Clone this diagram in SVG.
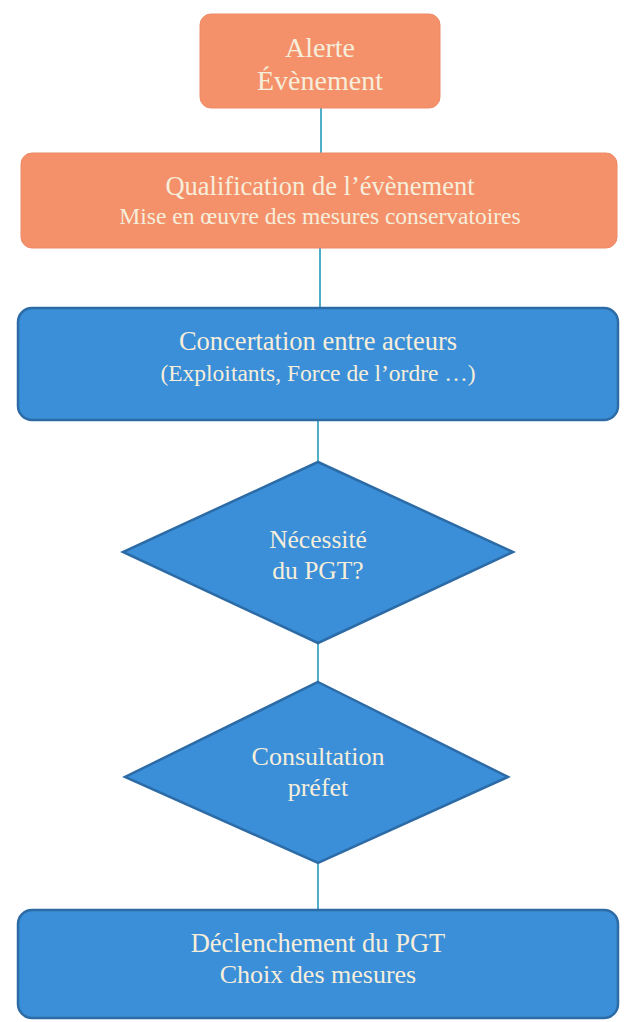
<svg xmlns="http://www.w3.org/2000/svg" width="625" height="1022" viewBox="0 0 625 1022">
<style>
.orange{fill:#F4916B;stroke:#EE8A66;stroke-width:1}
.blue{fill:#3A8FD8;stroke:#2C6BA6;stroke-width:2.5}
.t{font-family:"Liberation Serif","Times New Roman",serif;fill:#F6EEDB;text-anchor:middle}
.conn{stroke:#4FAFC9;stroke-width:2;fill:none}
</style>
<rect width="625" height="1022" fill="#ffffff"/>
<g id="connectors">
<line class="conn" x1="321" y1="108" x2="321" y2="154"/>
<line class="conn" x1="320" y1="248" x2="320" y2="309"/>
<line class="conn" x1="318" y1="420" x2="318" y2="463"/>
<line class="conn" x1="318" y1="643" x2="318" y2="683"/>
<line class="conn" x1="318" y1="863" x2="318" y2="911"/>
</g>
<g id="alerte">
<rect class="orange" x="200" y="14" width="240" height="94" rx="11"/>
<text class="t" x="320" y="57" font-size="28">Alerte</text>
<text class="t" x="320" y="90" font-size="28">Évènement</text>
</g>
<g id="qualification">
<rect class="orange" x="21" y="153" width="596" height="95" rx="11"/>
<text class="t" x="320" y="195" font-size="26.5">Qualification de l’évènement</text>
<text class="t" x="320" y="224" font-size="23.5">Mise en œuvre des mesures conservatoires</text>
</g>
<g id="concertation">
<rect class="blue" x="18" y="308" width="600" height="112" rx="14"/>
<text class="t" x="318" y="350" font-size="26.5">Concertation entre acteurs</text>
<text class="t" x="318" y="381" font-size="23.5">(Exploitants, Force de l’ordre …)</text>
</g>
<g id="necessite">
<polygon class="blue" points="318,462 513,552 318,643 123,552"/>
<text class="t" x="318" y="548" font-size="25.5">Nécessité</text>
<text class="t" x="318" y="579" font-size="25.5">du PGT?</text>
</g>
<g id="consultation">
<polygon class="blue" points="318,682 508,777 318,863 125,777"/>
<text class="t" x="318" y="765" font-size="26">Consultation</text>
<text class="t" x="318" y="796" font-size="26">préfet</text>
</g>
<g id="declenchement">
<rect class="blue" x="18" y="910" width="600" height="108" rx="14"/>
<text class="t" x="318" y="952" font-size="26.5">Déclenchement du PGT</text>
<text class="t" x="318" y="983" font-size="26">Choix des mesures</text>
</g>
</svg>
